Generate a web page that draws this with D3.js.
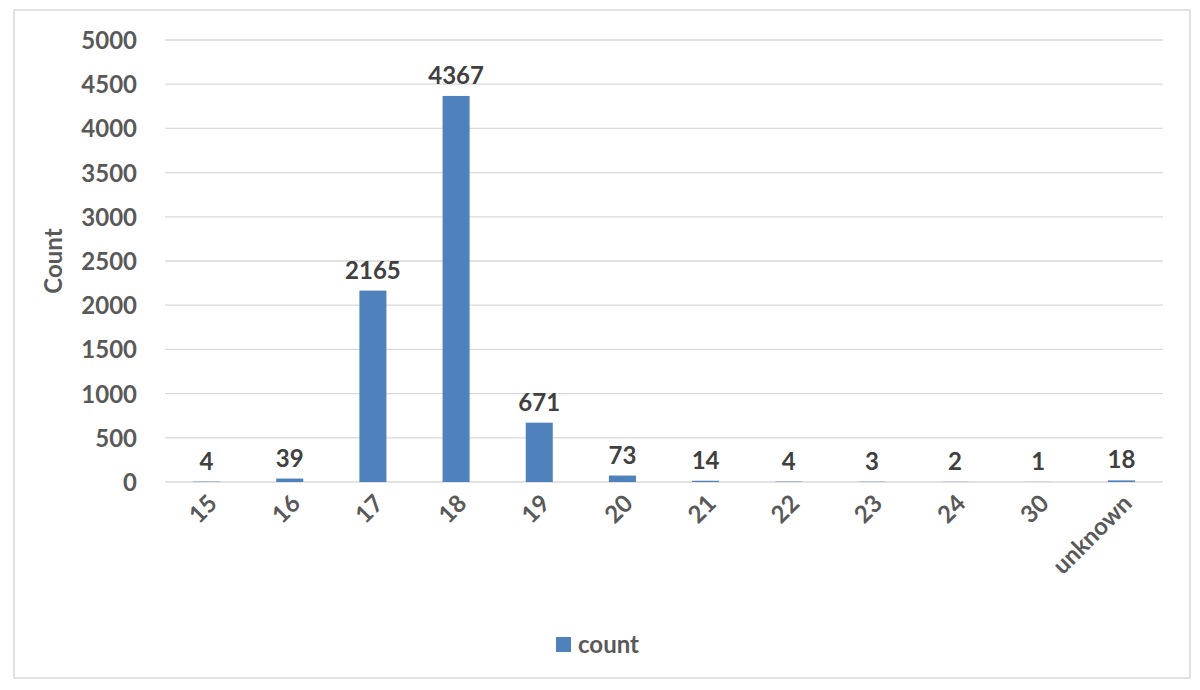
<!DOCTYPE html>
<html><head><meta charset="utf-8">
<script src="https://cdn.jsdelivr.net/npm/d3@7"></script>
<style>body{margin:0;background:#fff}text{font-family:Lato,"Liberation Sans",sans-serif}</style>
</head><body><svg id="c" width="1200" height="690"></svg>
<script>
const categories=["15","16","17","18","19","20","21","22","23","24","30","unknown"];
const counts=[4,39,2165,4367,671,73,14,4,3,2,1,18];
const yTicks=[0,500,1000,1500,2000,2500,3000,3500,4000,4500,5000];
const svg=d3.select("#c");
svg.append("rect").attr("x",14).attr("y",10).attr("width",1176).attr("height",668).attr("fill","#fff").attr("stroke","#d9d9d9").attr("stroke-width",1.5);
const x=d3.scaleBand().domain(categories).range([165,1163]).paddingInner(0.675).paddingOuter(0.3375);
const y=d3.scaleLinear().domain([0,5000]).range([482,40]);
const g=svg.append("g");
g.selectAll("line.grid").data(yTicks).join("line").attr("x1",165).attr("x2",1163).attr("y1",d=>y(d)).attr("y2",d=>y(d)).attr("stroke","#d9d9d9").attr("stroke-width",1.3);
g.selectAll("text.yt").data(yTicks).join("text").attr("x",137).attr("y",d=>y(d)+9).attr("text-anchor","end").attr("font-size",24).attr("font-weight","bold").attr("fill","#595959").text(d=>d);
g.selectAll("rect.bar").data(counts).join("rect").attr("x",(d,i)=>x(categories[i])).attr("width",x.bandwidth()).attr("y",d=>y(d)).attr("height",d=>482-y(d)).attr("fill","#4f81bd");
g.selectAll("text.lab").data(counts).join("text").attr("x",(d,i)=>x(categories[i])+x.bandwidth()/2).attr("y",d=>y(d)-12).attr("text-anchor","middle").attr("font-size",24).attr("font-weight","bold").attr("fill","#404040").text(d=>d);
g.selectAll("text.xt").data(categories).join("text").attr("transform",d=>`translate(${x(d)+x.bandwidth()/2+12},${505}) rotate(-45)`).attr("text-anchor","end").attr("font-size",24).attr("font-weight","bold").attr("fill","#595959").text(d=>d);
svg.append("text").attr("transform","translate(62,261) rotate(-90)").attr("text-anchor","middle").attr("font-size",24).attr("font-weight","bold").attr("fill","#595959").text("Count");
svg.append("rect").attr("x",556).attr("y",637).attr("width",15).attr("height",15).attr("fill","#4f81bd");
svg.append("text").attr("x",578).attr("y",653).attr("font-size",24).attr("font-weight","bold").attr("fill","#595959").text("count");
</script></body></html>
